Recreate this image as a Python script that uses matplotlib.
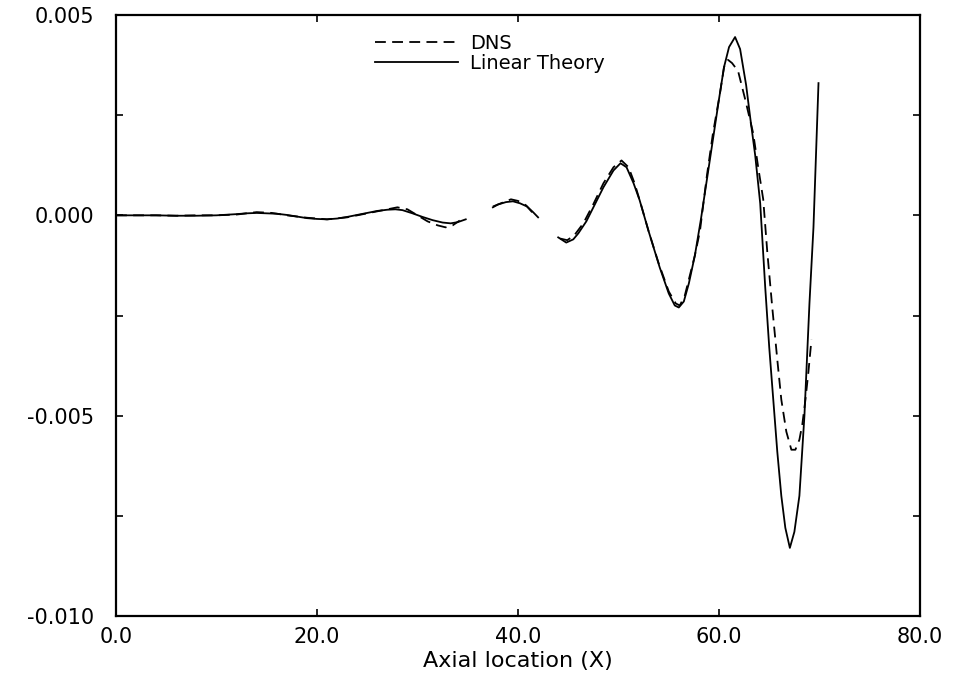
import numpy as np
import matplotlib
matplotlib.use("Agg")
import matplotlib.pyplot as plt
from matplotlib.ticker import MultipleLocator, FixedLocator

nan = np.nan
# Linear theory (solid); values of y in units of 1e-3, NaN = gap in the scanned trace
lt_x = [0, 2, 4, 6, 8, 10, 12, 13, 14, 15, 16, 17, 18, 19, 20, 21, 22, 23, 24, 25, 26, 27,
        27.8, 28.5, 29.5, 30.5, 31.5, 32.5, 33.3, 34.0, 34.8, 35.5,
        37.5, 38.0, 38.8, 39.5, 40.2, 40.9, 41.5, 42.0, 43.0,
        44.0, 44.8, 45.5, 46.0, 46.8, 47.5, 48.5, 49.5, 50.2, 50.8, 51.5, 52.1, 53.0, 54.1,
        55.0, 55.6, 56.0, 56.5, 57.0, 57.6, 58.2, 58.8, 59.4, 60.0, 60.5, 61.0, 61.6, 62.1,
        62.7, 63.1, 63.6, 64.1, 64.6, 65.0, 65.4, 65.8, 66.2, 66.6, 67.05, 67.5, 68.0, 68.5,
        69.0, 69.4, 69.9]
lt_y = [0, 0, 0, -0.01, -0.01, 0, 0.03, 0.05, 0.06, 0.05, 0.04, 0.01, -0.03, -0.07, -0.09,
        -0.10, -0.08, -0.04, 0.01, 0.06, 0.11, 0.14, 0.15, 0.13, 0.05, -0.04, -0.12, -0.18,
        -0.20, -0.17, -0.10, nan,
        0.20, 0.27, 0.33, 0.35, 0.30, 0.22, 0.08, -0.05, nan,
        -0.55, -0.68, -0.60, -0.45, -0.15, 0.20, 0.70, 1.12, 1.30, 1.20, 0.80, 0.38, -0.40,
        -1.30, -1.95, -2.25, -2.30, -2.15, -1.70, -1.00, -0.10, 0.90, 1.90, 2.90, 3.70, 4.20,
        4.45, 4.15, 3.25, 2.45, 1.50, 0.30, -1.80, -3.30, -4.60, -5.90, -7.00, -7.80, -8.30,
        -7.90, -7.00, -5.00, -2.20, -0.30, 3.30]

# DNS (dashed)
dns_x = [0, 2, 4, 6, 8, 10, 12, 14, 15.5, 17, 19, 21, 23, 25, 27, 28, 29, 30, 31, 32, 32.8,
         33.5, 34.2, 35.0,
         37.5, 38.5, 39.3, 40.0, 40.8, 41.5, 42.5,
         44.2, 44.9, 45.6, 46.5, 47.5, 48.5, 49.5, 50.3, 51.0, 51.6, 52.2, 53.0, 54.0, 55.0,
         55.7, 56.1, 56.6, 57.1, 57.6, 58.1, 58.8, 59.4, 60.1, 60.5, 60.9, 61.3, 61.9, 62.6,
         63.4, 63.9, 64.4, 64.8, 65.3, 65.8, 66.2, 66.7, 67.2, 67.6, 68.0, 68.3, 68.6, 68.9,
         69.2]
dns_y = [0, 0, 0, -0.01, 0, 0, 0.02, 0.08, 0.06, 0.0, -0.06, -0.10, -0.05, 0.05, 0.15, 0.20,
         0.15, 0.0, -0.15, -0.25, -0.30, -0.25, -0.13, nan,
         0.22, 0.32, 0.40, 0.36, 0.25, 0.05, nan,
         -0.58, -0.62, -0.50, -0.20, 0.28, 0.80, 1.20, 1.37, 1.20, 0.80, 0.30, -0.40, -1.20,
         -1.90, -2.20, -2.25, -2.00, -1.50, -1.00, -0.40, 1.00, 2.05, 3.05, 3.70, 3.88, 3.80,
         3.60, 2.90, 2.05, 1.20, 0.40, -0.90, -2.30, -3.60, -4.60, -5.40, -5.85, -5.85, -5.60,
         -5.20, -4.60, -3.90, -3.10]

x_ticks = [0, 20, 40, 60, 80]
x_labels = ["0.0", "20.0", "40.0", "60.0", "80.0"]
y_ticks = [0.005, 0.0, -0.005, -0.010]
y_labels = ["0.005", "0.000", "-0.005", "-0.010"]

plt.rcParams['font.family'] = ['DejaVu Sans']

fig = plt.figure(figsize=(9.54, 6.73), dpi=100)
ax = fig.add_axes([116/954, 1 - 616/673, 804/954, 601/673])

ax.plot(lt_x, np.array(lt_y) * 1e-3, color='black', lw=1.3, label='Linear Theory')
ax.plot(dns_x, np.array(dns_y) * 1e-3, color='black', lw=1.3, dashes=(6, 3.5), label='DNS')

ax.set_xlim(0, 80)
ax.set_ylim(-0.010, 0.005)
ax.xaxis.set_major_locator(FixedLocator(x_ticks))
ax.set_xticklabels(x_labels)
ax.yaxis.set_major_locator(FixedLocator(y_ticks))
ax.set_yticklabels(y_labels)
ax.yaxis.set_minor_locator(MultipleLocator(0.0025))
ax.tick_params(which='both', direction='in', top=True, right=True, length=5, width=1.2,
               labelsize=15)
ax.tick_params(axis='y', which='both', pad=16)
ax.tick_params(axis='x', which='both', pad=8)
for s in ax.spines.values():
    s.set_linewidth(1.6)

ax.set_xlabel("Axial location (X)", fontsize=16, labelpad=3)

h, l = ax.get_legend_handles_labels()
leg = ax.legend([h[1], h[0]], [l[1], l[0]], loc='upper left', bbox_to_anchor=(0.322, 0.968),
                frameon=False, fontsize=14, handlelength=4.3, handletextpad=0.6,
                borderaxespad=0, borderpad=0, labelspacing=0.05)

fig.savefig("out.png", dpi=100)
